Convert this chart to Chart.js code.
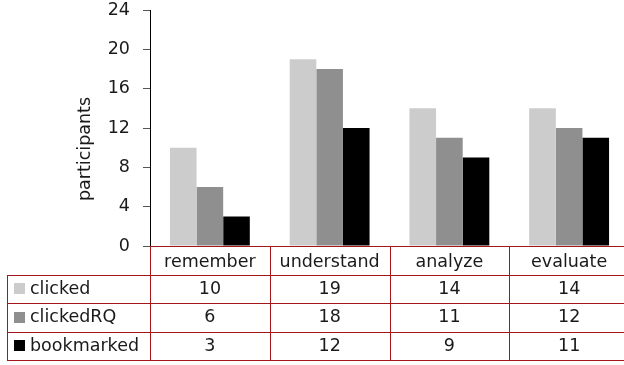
<!DOCTYPE html>
<html>
<head>
<meta charset="utf-8">
<script src="https://cdn.jsdelivr.net/npm/chart.js@4"></script>
<style>
  html, body { margin: 0; padding: 0; overflow: hidden; background: #fff; }
  canvas { display: block; }
</style>
</head>
<body>
<canvas id="c" width="640" height="365" style="width:640px;height:365px"></canvas>
<script>
const categories = ['remember', 'understand', 'analyze', 'evaluate'];
const seriesNames = ['clicked', 'clickedRQ', 'bookmarked'];
const clicked = [10, 19, 14, 14];
const clickedRQ = [6, 18, 11, 12];
const bookmarked = [3, 12, 9, 11];
const yTicks = [0, 4, 8, 12, 16, 20, 24];
const yTitle = 'participants';

const colors = ['#cccccc', '#8f8f8f', '#000000'];
const seriesValues = [clicked, clickedRQ, bookmarked];
const FONT = 'DejaVu Sans';
const FS = 17.5;
const TEXT = '#1a1a1a';
const RED = '#a3171b';

const tablePlugin = {
  id: 'dataTable',
  afterDraw(chart) {
    const ctx = chart.ctx;
    const xs = chart.scales.x;
    const n = categories.length;
    const step = xs.width / n;
    const top = chart.chartArea.bottom;
    const rowH = 28.5;
    const tableLeft = 7;
    const right = xs.left + step * n;
    ctx.save();
    ctx.strokeStyle = RED;
    ctx.lineWidth = 1;
    ctx.beginPath();
    ctx.moveTo(xs.left, top + 0.5);
    ctx.lineTo(right, top + 0.5);
    for (let r = 1; r <= seriesNames.length + 1; r++) {
      const y = Math.round(top + rowH * r) + 0.5;
      ctx.moveTo(tableLeft, y);
      ctx.lineTo(right, y);
    }
    const yEnd = Math.round(top + rowH * (seriesNames.length + 1)) + 0.5;
    for (let i = 0; i <= n; i++) {
      const x = Math.round(xs.left + step * i) + 0.5;
      ctx.moveTo(x, top);
      ctx.lineTo(x, yEnd);
    }
    ctx.moveTo(tableLeft + 0.5, Math.round(top + rowH) + 0.5);
    ctx.lineTo(tableLeft + 0.5, yEnd);
    ctx.stroke();

    ctx.font = FS + 'px "' + FONT + '"';
    ctx.textBaseline = 'middle';
    for (let s = 0; s < seriesNames.length; s++) {
      const cy = top + rowH * (s + 1) + rowH / 2 + 0.5;
      ctx.fillStyle = colors[s];
      ctx.fillRect(14, Math.round(cy - 6), 11, 11);
      ctx.fillStyle = TEXT;
      ctx.textAlign = 'left';
      ctx.fillText(seriesNames[s], 30, cy);
      ctx.textAlign = 'center';
      for (let i = 0; i < n; i++) {
        ctx.fillText(String(seriesValues[s][i]), xs.getPixelForTick(i), cy);
      }
    }

    ctx.translate(85, 149);
    ctx.rotate(-Math.PI / 2);
    ctx.textAlign = 'center';
    ctx.textBaseline = 'middle';
    ctx.fillStyle = TEXT;
    ctx.fillText(yTitle, 0, 0);
    ctx.restore();
  }
};

new Chart(document.getElementById('c'), {
  type: 'bar',
  data: {
    labels: categories,
    datasets: seriesNames.map((name, k) => ({
      label: name,
      data: seriesValues[k],
      backgroundColor: colors[k],
      borderWidth: 0,
      barPercentage: 1,
      categoryPercentage: 0.667
    }))
  },
  options: {
    responsive: false,
    animation: false,
    devicePixelRatio: 1,
    layout: { padding: { left: 0, top: 0, right: 11, bottom: 0 } },
    plugins: { legend: { display: false }, tooltip: { enabled: false } },
    scales: {
      x: {
        grid: { display: false, drawTicks: false },
        border: { display: false },
        ticks: { color: TEXT, font: { family: FONT, size: FS }, padding: 6, maxRotation: 0, autoSkip: false },
        afterFit(scale) { scale.height = 119; }
      },
      y: {
        min: 0,
        max: 24,
        afterBuildTicks(scale) { scale.ticks = yTicks.map(v => ({ value: v })); },
        grid: { drawOnChartArea: false, drawTicks: true, tickLength: 7, color: '#555' },
        border: { display: true, color: '#000', width: 1 },
        ticks: { color: TEXT, font: { family: FONT, size: FS }, padding: 13 },
        afterFit(scale) { scale.width = 150; scale.paddingTop = 10; scale.paddingBottom = 0; }
      }
    }
  },
  plugins: [tablePlugin]
});
</script>
</body>
</html>
